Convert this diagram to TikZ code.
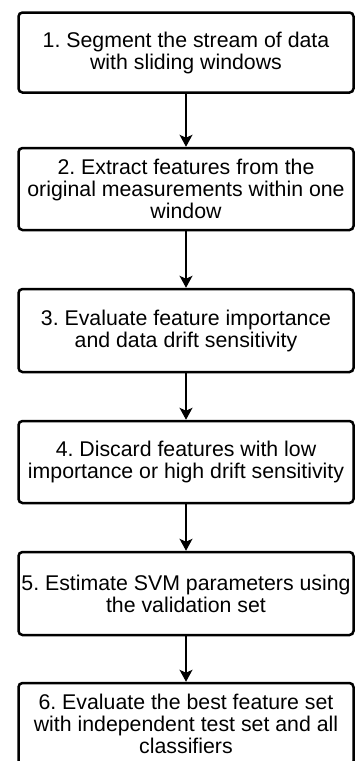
\documentclass[tikz,border=0pt]{standalone}
\usepackage{fontspec}
\setmainfont{Liberation Sans}
\usetikzlibrary{arrows.meta}
\begin{document}
\frenchspacing
\begin{tikzpicture}[x=1pt,y=1pt,
  stepbox/.style={draw, line width=2.5pt, rounded corners=4pt,
    minimum width=335pt, align=center, inner sep=0pt,
    font=\frenchspacing\fontsize{21.3}{22}\selectfont, text=black},
  flow/.style={line width=1.3pt, -{Stealth[length=12pt,width=13pt,inset=3pt]}}]
\useasboundingbox (0,0) rectangle (355,-761);
\clip (0,0) rectangle (355,-761);
\node[stepbox, minimum height=80pt] (s1) at (186,-52.5)
  {1. Segment the stream of data\\with sliding windows};
\node[stepbox, minimum height=82pt] (s2) at (186,-189)
  {2. Extract features from the\\original measurements within one\\window};
\node[stepbox, minimum height=83pt] (s3) at (186,-330.5)
  {3. Evaluate feature importance\\and data drift sensitivity};
\node[stepbox, minimum height=82pt] (s4) at (186,-462)
  {4. Discard features with low\\importance or high drift sensitivity};
\node[stepbox, minimum height=83pt] (s5) at (186,-593.5)
  {5. Estimate SVM parameters using\\the validation set};
\node[stepbox, minimum height=82pt] (s6) at (186,-724)
  {6. Evaluate the best feature set\\with independent test set and all\\classifiers};
\draw[flow] (s1) -- (s2);
\draw[flow] (s2) -- (s3);
\draw[flow] (s3) -- (s4);
\draw[flow] (s4) -- (s5);
\draw[flow] (s5) -- (s6);
\end{tikzpicture}
\end{document}
